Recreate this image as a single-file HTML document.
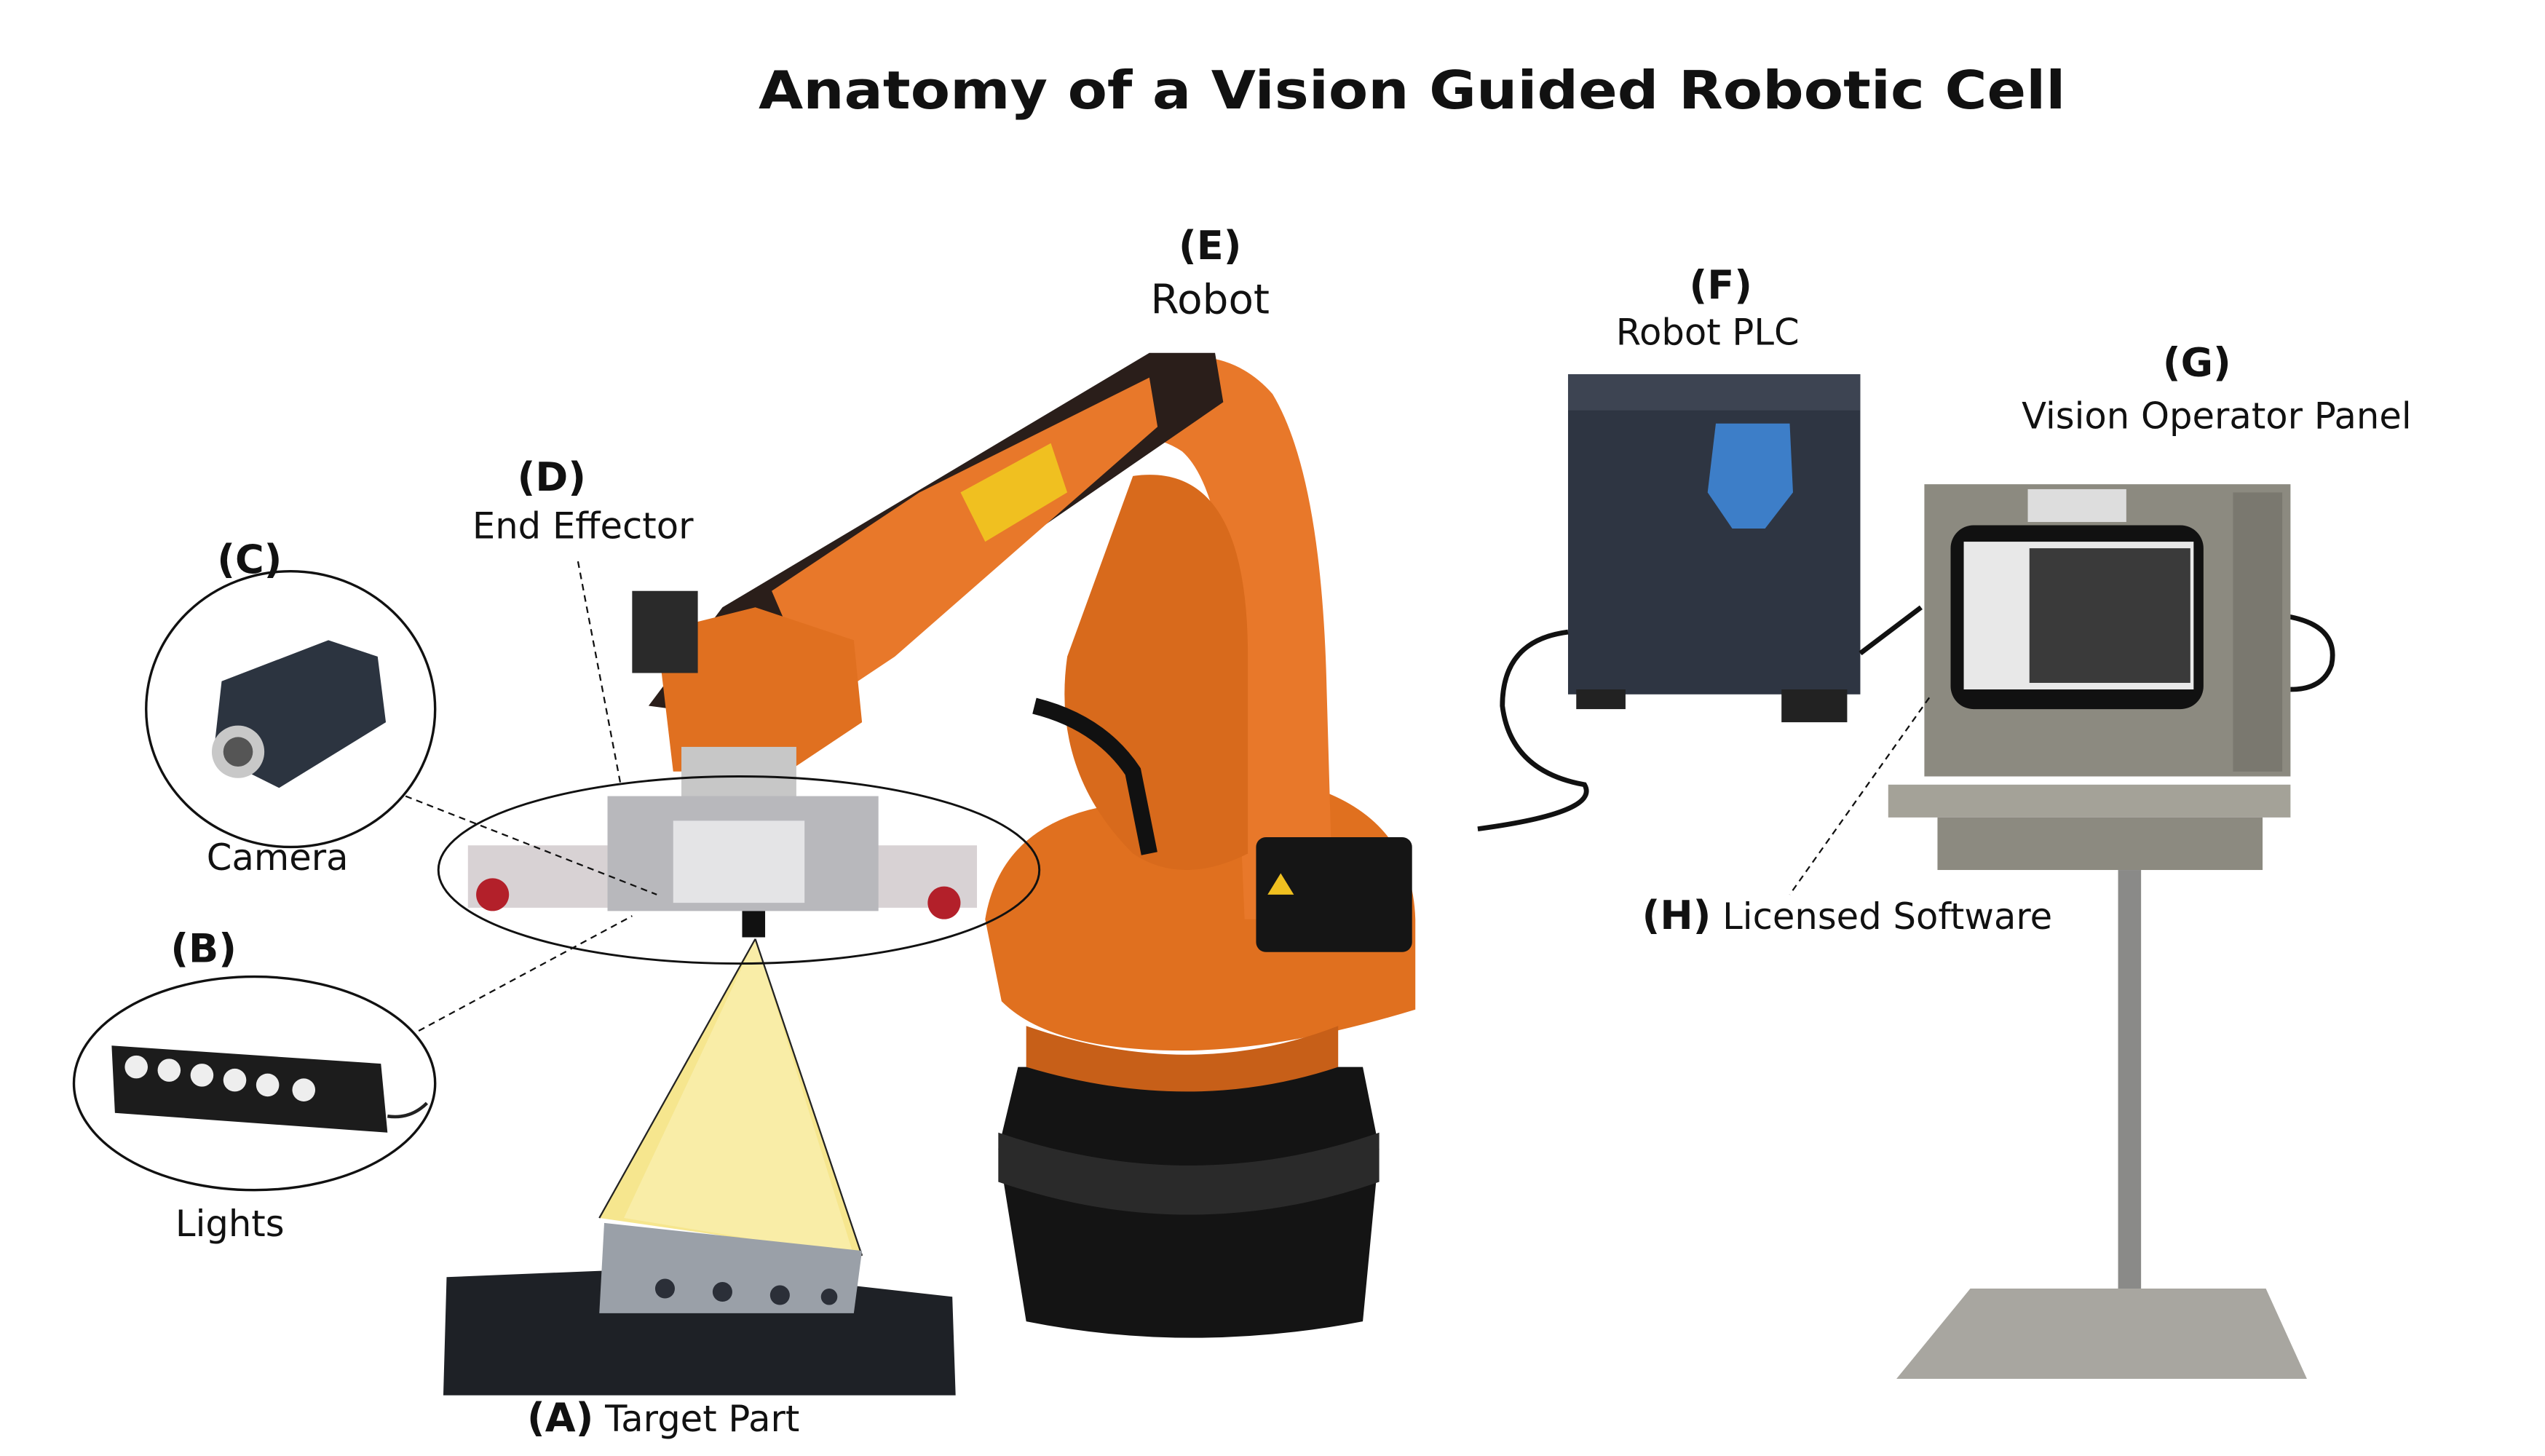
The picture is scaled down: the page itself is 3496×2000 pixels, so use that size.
<!DOCTYPE html>
<html><head><meta charset="utf-8"><style>
html,body{margin:0;padding:0;background:#fff;}
svg{display:block;}
text{font-family:"DejaVu Sans","Liberation Sans",sans-serif;fill:#111;}
</style></head><body>
<svg width="3496" height="2000" viewBox="0 0 1550 887" preserveAspectRatio="none" xmlns="http://www.w3.org/2000/svg">
<rect width="1550" height="887" fill="#fff"/>
<text x="462" y="66" font-size="32" font-weight="bold" textLength="796" lengthAdjust="spacingAndGlyphs">Anatomy of a Vision Guided Robotic Cell</text>

<!-- Target part -->
<polygon points="460,572 365,742 525,765" fill="#f4e27a" opacity="0.85"/>
<polygon points="460,572 380,742 520,765" fill="#fbf3c0" opacity="0.5"/>
<line x1="460" y1="572" x2="365" y2="742" stroke="#222" stroke-width="1"/>
<line x1="460" y1="572" x2="525" y2="765" stroke="#222" stroke-width="1"/>
<path d="M272,778 L420,772 L580,790 L582,850 L270,850 Z" fill="#1e2126"/>
<path d="M368,745 L525,762 L520,800 L365,800 Z" fill="#9aa0a8"/>
<g fill="#2b2f38"><circle cx="405" cy="785" r="6"/><circle cx="440" cy="787" r="6"/><circle cx="475" cy="789" r="6"/><circle cx="505" cy="790" r="5"/></g>

<!-- Robot base -->
<path d="M620,650 L830,650 L840,700 L830,805 Q725,825 625,805 L608,700 Z" fill="#141414"/>
<path d="M608,690 Q725,730 840,690 L840,720 Q725,760 608,720 Z" fill="#2a2a2a"/>
<path d="M600,560 Q610,500 680,490 L800,480 Q860,500 862,560 L862,615 Q780,640 720,640 Q640,640 610,610 Z" fill="#e0701f"/>
<path d="M625,625 Q725,660 815,625 L815,650 Q725,680 625,650 Z" fill="#c75f18"/>
<path d="M675,230 Q740,200 775,240 Q805,290 808,420 L812,560 L758,560 L752,420 Q748,300 720,275 Q700,262 680,270 Z" fill="#e8782a"/>
<path d="M690,290 Q760,280 760,400 L760,520 Q720,540 690,520 Q640,470 650,400 Z" fill="#d86a1c"/>
<path d="M630,430 Q670,440 690,470 L700,520" stroke="#111" stroke-width="10" fill="none"/>
<polygon points="395,430 440,370 700,215 740,215 745,245 520,400 470,440" fill="#2a1e1a"/>
<polygon points="470,360 560,300 700,230 705,260 545,400 500,430" fill="#e8782a"/>
<polygon points="585,300 640,270 650,300 600,330" fill="#f0c020"/>
<path d="M400,385 L460,370 L520,390 L525,440 L480,470 L410,470 Z" fill="#e07020"/>
<rect x="385" y="360" width="40" height="50" fill="#2a2a2a"/>
<rect x="415" y="455" width="70" height="35" fill="#c7c7c7"/>
<rect x="765" y="510" width="95" height="70" rx="6" fill="#151515"/>
<polygon points="772,545 780,532 788,545" fill="#f0c020"/>

<!-- end effector -->
<rect x="285" y="515" width="310" height="38" fill="#d8d2d4"/>
<rect x="370" y="485" width="165" height="70" fill="#b8b8bc"/>
<rect x="410" y="500" width="80" height="50" fill="#e4e4e6"/>
<circle cx="300" cy="545" r="10" fill="#b3202a"/>
<circle cx="575" cy="550" r="10" fill="#b3202a"/>
<rect x="452" y="555" width="14" height="16" fill="#111"/>
<ellipse cx="450" cy="530" rx="183" ry="57" fill="none" stroke="#111" stroke-width="1.3"/>
<line x1="352" y1="342" x2="378" y2="478" stroke="#111" stroke-dasharray="4,3" stroke-width="1"/>

<!-- camera -->
<ellipse cx="177" cy="432" rx="88" ry="84" fill="#fff" stroke="#111" stroke-width="1.5"/>
<polygon points="135,415 200,390 230,400 235,440 170,480 130,460" fill="#2c3440"/>
<circle cx="145" cy="458" r="16" fill="#c8c8c8"/>
<circle cx="145" cy="458" r="9" fill="#555"/>
<line x1="247" y1="485" x2="400" y2="545" stroke="#111" stroke-dasharray="4,3"/>
<!-- lights -->
<ellipse cx="155" cy="660" rx="110" ry="65" fill="#fff" stroke="#111" stroke-width="1.5"/>
<polygon points="68,637 232,648 236,690 70,678" fill="#1c1c1c"/>
<g fill="#eee"><circle cx="83" cy="650" r="7"/><circle cx="103" cy="652" r="7"/><circle cx="123" cy="655" r="7"/><circle cx="143" cy="658" r="7"/><circle cx="163" cy="661" r="7"/><circle cx="185" cy="664" r="7"/></g>
<path d="M236,680 Q250,682 260,672" stroke="#222" stroke-width="2" fill="none"/>
<line x1="255" y1="628" x2="385" y2="558" stroke="#111" stroke-dasharray="4,3"/>

<!-- PLC -->
<rect x="955" y="228" width="178" height="195" fill="#2e3542"/>
<rect x="955" y="228" width="178" height="22" fill="#3d4452"/>
<rect x="960" y="420" width="30" height="12" fill="#222"/>
<rect x="1085" y="420" width="40" height="20" fill="#222"/>
<path d="M1045,258 L1090,258 L1092,300 L1075,322 L1055,322 L1040,300 Z" fill="#3d7ec8"/>
<path d="M955,385 Q915,390 915,430 Q920,470 965,478 Q975,495 900,505" stroke="#111" stroke-width="3" fill="none"/>
<path d="M1133,398 L1170,370" stroke="#111" stroke-width="3"/>

<!-- Panel -->
<path d="M1390,375 Q1425,380 1420,405 Q1415,420 1395,420" stroke="#111" stroke-width="3" fill="none"/>
<rect x="1172" y="295" width="223" height="178" fill="#8c8a80"/>
<rect x="1235" y="298" width="60" height="20" fill="#ddd"/>
<rect x="1188" y="320" width="154" height="112" rx="14" fill="#111"/>
<rect x="1196" y="330" width="140" height="90" fill="#e8e8e8"/>
<rect x="1236" y="334" width="98" height="82" fill="#3a3a3a"/>
<rect x="1360" y="300" width="30" height="170" fill="#7a786f"/>
<rect x="1150" y="478" width="245" height="20" fill="#a4a298"/>
<rect x="1180" y="498" width="198" height="32" fill="#8c8a80"/>
<rect x="1290" y="530" width="14" height="300" fill="#8a8a88"/>
<polygon points="1200,785 1380,785 1405,840 1155,840" fill="#a8a6a0"/>
<line x1="1175" y1="425" x2="1090" y2="545" stroke="#111" stroke-dasharray="4,3"/>

<!-- labels -->
<g font-size="24" text-anchor="middle">
<text x="737" y="158" font-weight="bold">(E)</text>
<text x="737" y="191" font-size="25">Robot</text>
<text x="1048" y="182" font-weight="bold">(F)</text>
<text x="1040" y="210" font-size="22">Robot PLC</text>
<text x="1338" y="229" font-weight="bold">(G)</text>
<text x="1350" y="261" font-size="22">Vision Operator Panel</text>
<text x="336" y="299" font-weight="bold">(D)</text>
<text x="355" y="328" font-size="22">End Effector</text>
<text x="152" y="349" font-weight="bold">(C)</text>
<text x="169" y="530" font-size="22">Camera</text>
<text x="124" y="586" font-weight="bold">(B)</text>
<text x="140" y="753" font-size="22">Lights</text>
<text x="1125" y="566" font-size="22"><tspan font-weight="bold" font-size="24">(H)</tspan> Licensed Software</text>
<text x="404" y="872" font-size="22"><tspan font-weight="bold" font-size="24">(A)</tspan> Target Part</text>
</g>
</svg>
</body></html>
